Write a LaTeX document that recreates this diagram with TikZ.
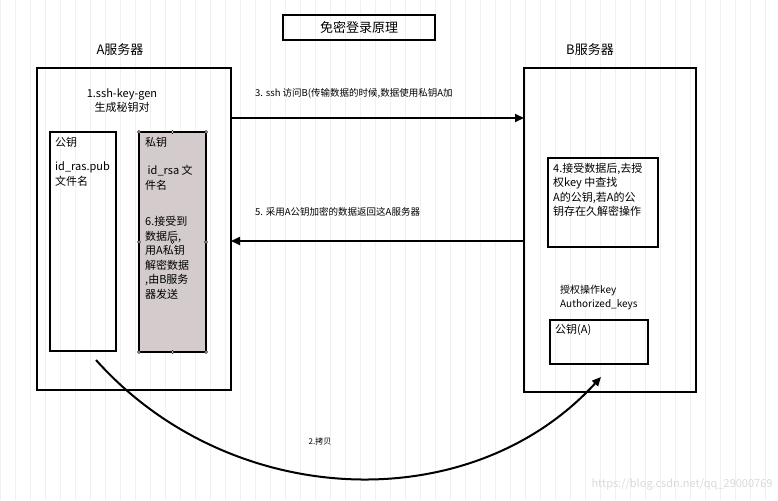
\documentclass[tikz,border=0pt]{standalone}
\usepackage{fontspec}
\setmainfont{Noto Sans CJK SC}
\usetikzlibrary{arrows.meta}

\begin{document}
\begin{tikzpicture}[x=1pt,y=-1pt,
  box/.style={draw, line width=1.5pt},
  txt/.style={anchor=north west, align=left, font=\fontsize{11}{14.5}\selectfont, inner sep=0pt},
  link/.style={-{Triangle[length=9pt,width=8pt]}, line width=2pt},
  handle/.style={circle, draw, fill=white, inner sep=0pt, minimum size=3pt, line width=0.4pt}]
\useasboundingbox (0,0) rectangle (778,500);
\draw[black!6, step=15] (0,0) grid (778,500);
% title
\draw[box] (283,15) rectangle (435,40);
\node (title) at (359,28) {\fontsize{13}{15}\selectfont 免密登录原理};
% server A
\node[font=\fontsize{13}{15}\selectfont] (labA) at (120,50) {A服务器};
\draw[box] (37,68) rectangle (231,390);
\coordinate (Aout) at (231,118);
\coordinate (Ain) at (231,241);
\node[align=center, font=\fontsize{11}{14}\selectfont] (gen) at (122,101) {1.ssh-key-gen\\生成秘钥对};
\draw[box] (50,132) rectangle (116,351);
\node[txt] (pub) at (55,137) {公钥\\[10pt]id\_ras.pub\\文件名};
\draw[box, fill={rgb,255:red,212;green,204;blue,204}] (139,132) rectangle (206,352);
\foreach \px in {139,172.5,206}
  \foreach \py in {132,242,352}
    \node[handle] at (\px,\py) {};
\node[txt] (priv) at (145,137) {私钥\\[14pt]\ id\_rsa 文\\件名\\[22pt]6.接受到\\数据后,\\用A私钥\\解密数据\\,由B服务\\器发送};
% server B
\node[font=\fontsize{13}{15}\selectfont] (labB) at (590,50) {B服务器};
\draw[box] (524,68) rectangle (696,392);
\coordinate (Bin) at (524,118);
\coordinate (Bout) at (524,241);
\draw[box] (548,158) rectangle (658,247);
\node[txt] (find) at (553,163) {4.接受数据后,去授\\权key 中查找\\A的公钥,若A的公\\钥存在久解密操作};
\node[txt, font=\fontsize{10}{14}\selectfont] (auth) at (560,285) {授权操作key\\Authorized\_keys};
\draw[box] (550,320) rectangle (648,364);
\node[txt] (pubA) at (555,324) {公钥(A)};
% messages
\draw[link] (Aout) -- (Bin);
\node[txt, font=\fontsize{9.5}{11}\selectfont] (m3) at (255,88) {3. ssh 访问B(传输数据的时候,数据使用私钥A加};
\draw[link] (Bout) -- (Ain);
\node[txt, font=\fontsize{9.5}{11}\selectfont] (m5) at (255,207) {5. 采用A公钥加密的数据返回这A服务器};
\coordinate (c0) at (96,360);
\coordinate (c1) at (601,377);
\draw[link] (c0) .. controls (230,510) and (470,520) .. (c1);
\node[font=\fontsize{8}{10}\selectfont] (copy) at (320,441) {2.拷贝};
\node[text=black!15, font=\fontsize{11}{13}\selectfont, anchor=east] (wm) at (776,484) {https://blog.csdn.net/qq\_29000769};
\end{tikzpicture}
\end{document}
